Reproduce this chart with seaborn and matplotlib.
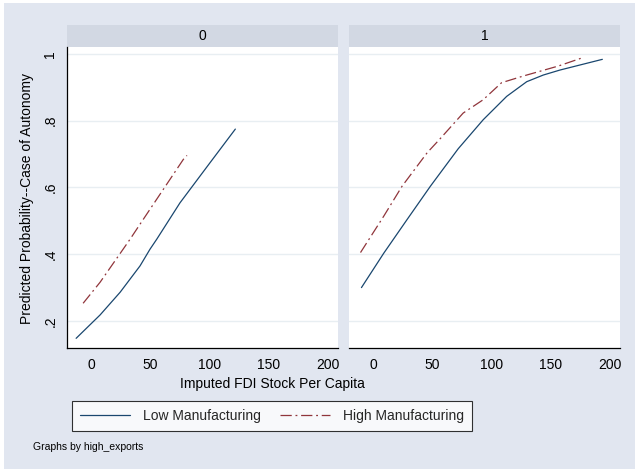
import numpy as np
import pandas as pd
import matplotlib
matplotlib.use("Agg")
import matplotlib.pyplot as plt
from matplotlib.patches import Rectangle
from matplotlib.lines import Line2D
import seaborn as sns

# panel 0 (high_exports == 0)
low0_x = [-12.6, 7.6, 24.5, 41.3, 49.7, 55.4, 75, 100.3, 121.7]
low0_y = [0.148, 0.218, 0.286, 0.365, 0.415, 0.445, 0.554, 0.674, 0.775]
high0_x = [-6.7, 7.6, 32.9, 41.3, 77.8, 80.9]
high0_y = [0.253, 0.316, 0.445, 0.49, 0.684, 0.696]
# panel 1 (high_exports == 1)
low1_x = [-9.8, 9.0, 28.7, 48.4, 71.8, 92.9, 112.7, 129.6, 143.6, 157.7, 193.4]
low1_y = [0.300, 0.403, 0.504, 0.604, 0.716, 0.803, 0.873, 0.917, 0.937, 0.952, 0.984]
high1_x = [-10.6, 9.0, 24.5, 45.6, 56.3, 76, 92.9, 108.4, 126.7, 156.3, 175.2]
high1_y = [0.405, 0.514, 0.604, 0.704, 0.745, 0.823, 0.863, 0.914, 0.934, 0.964, 0.987]

groups = ["Low Manufacturing", "High Manufacturing"]
panels = ["0", "1"]
xticks = [0, 50, 100, 150, 200]
yticks = [0.2, 0.4, 0.6, 0.8, 1.0]
ylabels = [".2", ".4", ".6", ".8", "1"]

rows = []
for p, lx, ly, hx, hy in [("0", low0_x, low0_y, high0_x, high0_y),
                           ("1", low1_x, low1_y, high1_x, high1_y)]:
    for x, y in zip(lx, ly):
        rows.append((p, groups[0], x, y))
    for x, y in zip(hx, hy):
        rows.append((p, groups[1], x, y))
df = pd.DataFrame(rows, columns=["panel", "group", "fdi", "prob"])

sns.set_theme(style="white")
plt.rcParams['font.family'] = ['Liberation Sans', 'DejaVu Sans']

bg = "#E1E6F0"
strip_c = "#D2D8E3"
grid_c = "#E8EEF2"
navy = "#1A476F"
maroon = "#90353B"
palette = {groups[0]: navy, groups[1]: maroon}
dashes = {groups[0]: "", groups[1]: (9, 3, 1.5, 3)}
fs = 10

W, H = 635, 469
fig = plt.figure(figsize=(W / 100, H / 100), dpi=100)
fig.patch.set_facecolor("white")
fig.patches.append(Rectangle((4 / W, 0), 1, 1 - 3 / H, transform=fig.transFigure,
                             facecolor=bg, edgecolor="none", zorder=-10))

bottom = 1 - 348 / H
height = (348 - 47) / H
lefts = [67, 349]
width = (338 - 67) / W
for i, p in enumerate(panels):
    ax = fig.add_axes([lefts[i] / W, bottom, width, height])
    sub = df[df.panel == p]
    sns.lineplot(data=sub, x="fdi", y="prob", hue="group", style="group",
                 palette=palette, dashes=dashes, linewidth=0.9, ax=ax,
                 legend=False, estimator=None, sort=True)
    ax.set_facecolor("white")
    ax.set_xlim(-20.3, 208.3)
    ax.set_ylim(0.119, 1.021)
    ax.set_xticks(xticks)
    ax.set_xticklabels([str(t) for t in xticks], fontsize=fs)
    ax.set_yticks(yticks)
    for y in yticks:
        ax.axhline(y, color=grid_c, lw=1.0, zorder=0)
    for s in ["top", "right"]:
        ax.spines[s].set_visible(False)
    ax.spines["bottom"].set_color("black")
    ax.spines["bottom"].set_linewidth(0.9)
    ax.tick_params(axis="x", direction="out", length=4, width=0.8, color="black",
                   pad=3, labelcolor="black")
    if i == 0:
        ax.spines["left"].set_color("black")
        ax.spines["left"].set_linewidth(0.9)
        ax.set_yticklabels(ylabels, fontsize=fs, rotation=90, va="center")
        ax.tick_params(axis="y", direction="out", length=4, width=0.8, color="black",
                       pad=3, labelcolor="black")
    else:
        ax.spines["left"].set_visible(False)
        ax.set_yticklabels([])
        ax.tick_params(axis="y", length=0)
    ax.set_xlabel("")
    ax.set_ylabel("")
    # strip header
    sh = 22 / (348 - 47)
    ax.add_patch(Rectangle((0, 1), 1, sh, transform=ax.transAxes, facecolor=strip_c,
                           edgecolor="none", clip_on=False))
    ax.text(0.5, 1 + sh / 2, p, transform=ax.transAxes, ha="center", va="center",
            fontsize=fs, color="black")

fig.text(272 / W, 1 - 384 / H, "Imputed FDI Stock Per Capita", ha="center",
         va="center", fontsize=fs, color="black")
fig.text(27 / W, 1 - 198 / H, "Predicted Probability--Case of Autonomy", ha="center",
         va="center", rotation=90, fontsize=fs, color="black")

handles = [Line2D([], [], color=navy, lw=0.9),
           Line2D([], [], color=maroon, lw=0.9, dashes=dashes[groups[1]])]
leg = fig.legend(handles, groups, loc="center", bbox_to_anchor=(272 / W, 1 - 416 / H),
                 ncol=2, frameon=True, fancybox=False, fontsize=fs, handlelength=3.6,
                 columnspacing=1.4, handletextpad=0.9, borderpad=0.6, borderaxespad=0)
leg.get_frame().set_edgecolor("black")
leg.get_frame().set_linewidth(0.8)
leg.get_frame().set_facecolor("white")

fig.text(33 / W, 1 - 447 / H, "Graphs by high_exports", ha="left", va="center",
         fontsize=7.5, color="black")

fig.savefig("out.png", dpi=100, facecolor=fig.get_facecolor())
